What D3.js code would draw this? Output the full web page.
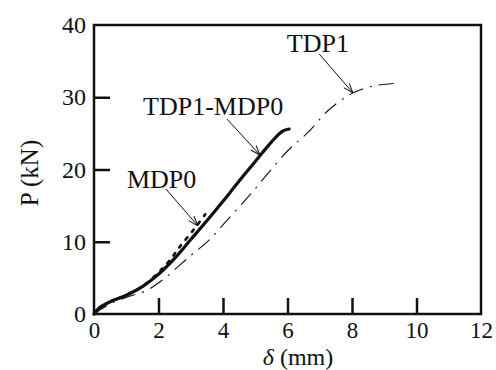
<!DOCTYPE html>
<html>
<head>
<meta charset="utf-8">
<script src="https://cdn.jsdelivr.net/npm/d3@7"></script>
<style>
  html, body { margin: 0; padding: 0; background: #fff; }
  svg { display: block; }
  text { font-family: "Liberation Serif", "DejaVu Serif", serif; fill: #111; }
</style>
</head>
<body>
<svg id="chart" width="496" height="370"></svg>
<script>
// ---- data ----
const xTicks = [0, 2, 4, 6, 8, 10, 12];
const yTicks = [0, 10, 20, 30, 40];

const tdp1Mdp0 = [[0,0],[0.15,0.8],[0.5,1.7],[1.0,2.6],[1.5,3.8],[2.0,5.5],[2.5,7.7],[3.0,10.3],[3.5,12.9],[4.0,15.6],[4.5,18.4],[5.0,21.1],[5.5,23.8],[5.85,25.3],[6.05,25.6]];
const mdp0 = [[0,0],[0.5,1.7],[1.0,2.6],[1.5,3.8],[2.12,6.3],[2.43,7.9],[2.64,9.2],[2.95,10.9],[3.2,12.3],[3.45,13.8]];
const tdp1 = [[0,0],[0.5,1.4],[1.0,2.3],[1.6,3.2],[2.12,4.7],[2.95,7.9],[3.56,10.2],[4.23,13.5],[4.8,16.3],[5.4,19.5],[6.03,22.7],[6.65,25.2],[7.27,28.2],[7.99,30.5],[8.6,31.5],[9.27,31.9],[9.5,32.0]];

const labels = [
  { text: "TDP1",      tx: 5.98, ty: 36.3, from: [6.98, 36.0], to: [8.03, 30.6] },
  { text: "TDP1-MDP0", tx: 1.52, ty: 27.5, from: [4.12, 27.0], to: [5.15, 22.0] },
  { text: "MDP0",      tx: 1.02, ty: 17.4, from: [2.23, 17.3], to: [3.22, 12.2] }
];

// ---- layout ----
const svg = d3.select("#chart");
const L = 94, R = 481, T = 25, B = 314;
const x = d3.scaleLinear().domain([0, 12]).range([L, R]);
const y = d3.scaleLinear().domain([0, 40]).range([B, T]);

// frame
svg.append("rect").attr("x", L).attr("y", T).attr("width", R - L).attr("height", B - T)
  .attr("fill", "none").attr("stroke", "#111").attr("stroke-width", 2.5);

// axes (inward ticks)
const xAxis = d3.axisBottom(x).tickValues(xTicks).tickSize(-16).tickPadding(24).tickFormat(d3.format("d"));
const yAxis = d3.axisLeft(y).tickValues(yTicks).tickSize(-16).tickPadding(24).tickFormat(d3.format("d"));

const gx = svg.append("g").attr("transform", `translate(0,${B})`).call(xAxis);
const gy = svg.append("g").attr("transform", `translate(${L},0)`).call(yAxis);
[gx, gy].forEach(g => {
  g.select(".domain").remove();
  g.selectAll(".tick line").attr("stroke", "#111").attr("stroke-width", 2.5);
  g.selectAll(".tick text").style("font-family", '"Liberation Serif", serif')
    .style("font-size", "24px").attr("fill", "#111");
});
gx.selectAll(".tick").filter(d => d === 0 || d === 12).select("line").remove();
gy.selectAll(".tick").filter(d => d === 0 || d === 40).select("line").remove();
gx.selectAll(".tick text").attr("y", 24).attr("dy", "0").style("font-size", "23px");
gy.selectAll(".tick text").attr("x", -8).attr("dy", "0.32em");

// axis titles
svg.append("text").attr("x", 298).attr("y", 365).attr("text-anchor", "middle")
  .style("font-size", "24px")
  .html('<tspan font-style="italic">δ</tspan> (mm)');
svg.append("text").attr("transform", "translate(38,173) rotate(-90)").attr("text-anchor", "middle")
  .style("font-size", "25px").text("P (kN)");

// curves
const line = d3.line().x(d => x(d[0])).y(d => y(d[1])).curve(d3.curveCatmullRom.alpha(0.5));

svg.append("path").datum(tdp1).attr("d", line).attr("fill", "none")
  .attr("stroke", "#111").attr("stroke-width", 1.1).attr("stroke-dasharray", "15,7,2,7");
svg.append("path").datum(mdp0).attr("d", line).attr("fill", "none")
  .attr("stroke", "#111").attr("stroke-width", 2.6).attr("stroke-dasharray", "3,7")
  .attr("stroke-linecap", "round");
svg.append("path").datum(tdp1Mdp0).attr("d", line).attr("fill", "none")
  .attr("stroke", "#111").attr("stroke-width", 3.2).attr("stroke-linecap", "round");

// arrow marker
svg.append("defs").append("marker").attr("id", "arr")
  .attr("viewBox", "0 0 10 10").attr("refX", 10).attr("refY", 5)
  .attr("markerWidth", 10).attr("markerHeight", 10).attr("markerUnits", "userSpaceOnUse")
  .attr("orient", "auto")
  .append("path").attr("d", "M0,1.5 L10,5 L0,8.5").attr("fill", "none")
  .attr("stroke", "#111").attr("stroke-width", 1);

// annotations
labels.forEach(a => {
  svg.append("line").attr("x1", x(a.from[0])).attr("y1", y(a.from[1]))
    .attr("x2", x(a.to[0])).attr("y2", y(a.to[1]))
    .attr("stroke", "#111").attr("stroke-width", 1).attr("marker-end", "url(#arr)");
  svg.append("text").attr("x", x(a.tx)).attr("y", y(a.ty))
    .style("font-size", "26px").text(a.text);
});
</script>
</body>
</html>
